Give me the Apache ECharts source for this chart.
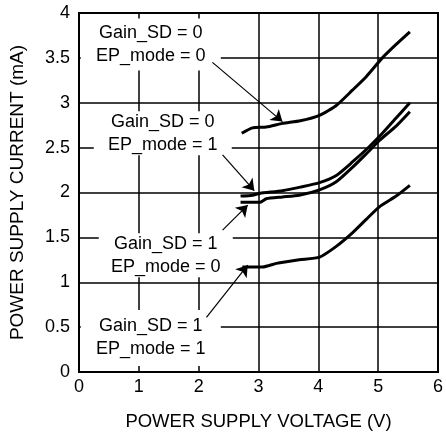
<!DOCTYPE html>
<html>
<head>
<meta charset="utf-8">
<script src="https://cdn.jsdelivr.net/npm/echarts@6/dist/echarts.min.js"></script>
<style>
  html, body { margin: 0; padding: 0; background: #fff; }
  #chart { width: 446px; height: 438px; }
</style>
</head>
<body>
<div id="chart"></div>
<script>
// supply voltage (V) / supply current (mA)
const sd0ep0V = [2.72, 2.9, 3.13, 3.4, 3.7, 4.02, 4.3, 4.57, 4.8, 5.07, 5.3, 5.53]
const sd0ep0I = [2.66, 2.72, 2.73, 2.77, 2.8, 2.86, 2.97, 3.14, 3.29, 3.5, 3.65, 3.79]

const sd0ep1V = [2.7, 2.9, 3.02, 3.4, 3.7, 4.02, 4.3, 4.57, 4.85, 5.07, 5.3, 5.53]
const sd0ep1I = [1.96, 1.97, 1.99, 2.02, 2.06, 2.11, 2.19, 2.34, 2.51, 2.66, 2.83, 3.0]

const sd1ep0V = [2.7, 3.02, 3.13, 3.4, 3.68, 4.02, 4.3, 4.57, 4.8, 5.02, 5.3, 5.53]
const sd1ep0I = [1.89, 1.89, 1.93, 1.95, 1.97, 2.03, 2.12, 2.28, 2.43, 2.58, 2.74, 2.9]

const sd1ep1V = [2.73, 3.07, 3.3, 3.68, 4.02, 4.3, 4.57, 4.8, 5.02, 5.3, 5.53]
const sd1ep1I = [1.17, 1.17, 1.21, 1.25, 1.28, 1.4, 1.55, 1.7, 1.84, 1.96, 2.08]

const xTicks = [0, 1, 2, 3, 4, 5, 6]
const yTicks = [0, 0.5, 1, 1.5, 2, 2.5, 3, 3.5, 4]

const labelTexts = [
  'Gain_SD = 0\nEP_mode = 0',
  'Gain_SD = 0\nEP_mode = 1',
  'Gain_SD = 1\nEP_mode = 0',
  'Gain_SD = 1\nEP_mode = 1'
]
// annotation anchors in data units: [label x, label y, arrow start x, y, arrow tip x, y]
const notes = [
  [1.2, 3.65, 2.23, 3.45, 3.4, 2.79],
  [1.4, 2.66, 2.4, 2.42, 2.93, 2.02],
  [1.45, 1.3, 2.4, 1.58, 2.82, 1.86],
  [1.2, 0.38, 2.13, 0.61, 2.82, 1.19]
]
// white box behind each label (px)
const boxSizes = [[140, 52], [138, 44], [134, 44], [140, 56]]

const font = 'Liberation Sans, Arial, sans-serif'

function pairs (xs, ys) {
  return xs.map((v, i) => [v, ys[i]])
}

function curve (name, xs, ys) {
  return {
    name: name,
    type: 'line',
    z: 7,
    data: pairs(xs, ys),
    showSymbol: false,
    smooth: 0.2,
    lineStyle: { color: '#000', width: 3 }
  }
}

const chart = echarts.init(document.getElementById('chart'))
chart.setOption({
  animation: false,
  backgroundColor: '#fff',
  grid: {
    left: 79,
    right: 7,
    top: 13,
    bottom: 66,
    show: true,
    borderColor: '#000',
    borderWidth: 2
  },
  xAxis: {
    type: 'value',
    min: xTicks[0],
    max: xTicks[xTicks.length - 1],
    interval: 1,
    name: 'POWER SUPPLY VOLTAGE (V)',
    nameLocation: 'middle',
    nameGap: 40,
    nameTextStyle: { color: '#000', fontSize: 18.5, fontFamily: font },
    axisLine: { lineStyle: { color: '#000', width: 2 } },
    axisTick: { show: false },
    axisLabel: { color: '#000', fontSize: 18, fontFamily: font, margin: 6 },
    splitLine: { show: false }
  },
  yAxis: {
    type: 'value',
    min: yTicks[0],
    max: yTicks[yTicks.length - 1],
    interval: 0.5,
    name: 'POWER SUPPLY CURRENT (mA)',
    nameLocation: 'middle',
    nameGap: 52,
    nameTextStyle: { color: '#000', fontSize: 19, fontFamily: font },
    axisLine: { lineStyle: { color: '#000', width: 2 } },
    axisTick: { show: false },
    axisLabel: { color: '#000', fontSize: 18, fontFamily: font, margin: 9 },
    splitLine: { show: true, lineStyle: { color: '#000', width: 1.5 } }
  },
  series: [
    {
      // vertical grid lines, kept under the label boxes
      type: 'scatter',
      data: [],
      silent: true,
      z: 1,
      markLine: {
        silent: true,
        animation: false,
        z: 1,
        symbol: 'none',
        label: { show: false },
        lineStyle: { color: '#000', width: 1.5, type: 'solid' },
        data: xTicks.slice(1, -1).map(v => ({ xAxis: v }))
      }
    },
    {
      type: 'custom',
      silent: true,
      z: 6,
      data: notes.map(n => [n[0], n[1]]),
      renderItem: function (params, api) {
        const p = api.coord([api.value(0), api.value(1)])
        const s = boxSizes[params.dataIndex]
        return {
          type: 'rect',
          shape: { x: p[0] - s[0] / 2, y: p[1] - s[1] / 2, width: s[0], height: s[1] },
          style: { fill: '#fff' },
          textContent: {
            style: {
              text: labelTexts[params.dataIndex],
              fontSize: 18,
              lineHeight: 23,
              fontFamily: font,
              fill: '#000'
            }
          },
          textConfig: { position: 'inside' }
        }
      }
    },
    curve('Gain_SD=0 EP_mode=0', sd0ep0V, sd0ep0I),
    curve('Gain_SD=0 EP_mode=1', sd0ep1V, sd0ep1I),
    curve('Gain_SD=1 EP_mode=0', sd1ep0V, sd1ep0I),
    curve('Gain_SD=1 EP_mode=1', sd1ep1V, sd1ep1I),
    {
      type: 'lines',
      coordinateSystem: 'cartesian2d',
      silent: true,
      z: 8,
      symbol: ['none', 'arrow'],
      symbolSize: 11,
      lineStyle: { color: '#000', width: 1.2, opacity: 1 },
      data: notes.map(n => ({ coords: [[n[2], n[3]], [n[4], n[5]]] }))
    }
  ]
})
</script>
</body>
</html>
